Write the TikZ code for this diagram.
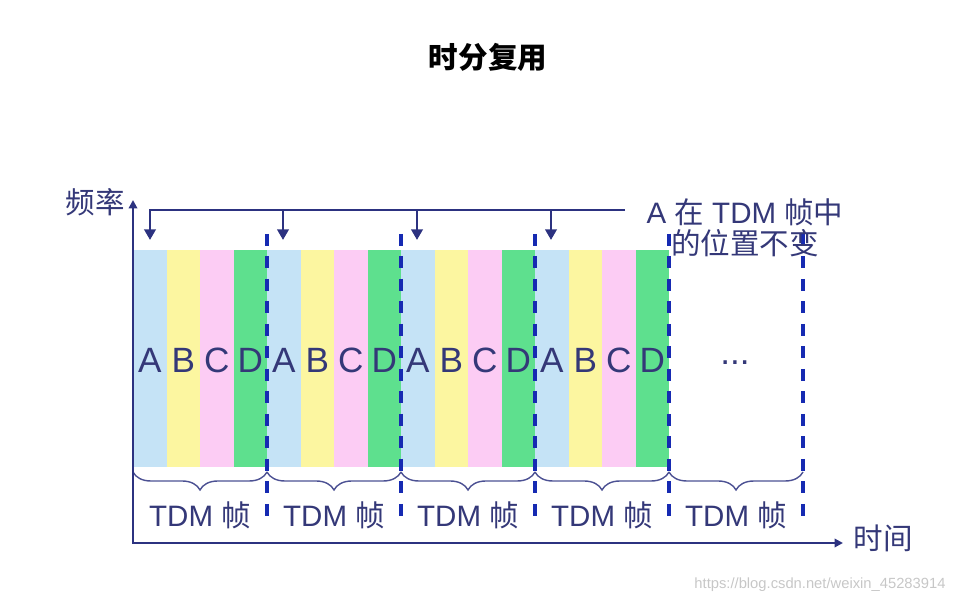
\documentclass[tikz,border=0pt]{standalone}
\usepackage{xcolor}
\usepackage{fontspec}
\setmainfont{Liberation Sans}
\newfontfamily\cjk{Noto Sans CJK SC}
\usepackage{tikz}
\usetikzlibrary{arrows.meta}
\usetikzlibrary{decorations.pathreplacing}

\definecolor{navy}{RGB}{44,50,128}
\definecolor{inkblue}{RGB}{52,56,120}
\definecolor{dashblue}{RGB}{22,42,178}
\definecolor{slotA}{RGB}{197,227,246}
\definecolor{slotB}{RGB}{252,246,160}
\definecolor{slotC}{RGB}{252,204,244}
\definecolor{slotD}{RGB}{94,224,142}

\tikzset{
  axis/.style={draw=navy, line width=2pt},
  bracket/.style={draw=navy, line width=2.1pt, -{Triangle[length=7.5pt,width=8pt]}},
  slotletter/.style={text=inkblue, font=\fontsize{25}{25}\selectfont},
  framelabel/.style={text=inkblue, font=\fontsize{21}{22}\selectfont},
  framesep/.style={draw=dashblue, line width=2.3pt, dash pattern=on 8.5pt off 7.5pt},
  framebrace/.style={draw=navy!85, line width=1pt, decorate,
    decoration={brace, mirror, amplitude=0.45cm}},
}

\begin{document}
\begin{tikzpicture}
\useasboundingbox (0,0) rectangle (24.125,15.1);

% title
\node (title) at (12.2,13.675) {\cjk\bfseries\fontsize{21}{21}\selectfont 时分复用};

% time slots of the four frames
\foreach \f in {0,1,2,3} {
  \foreach \s/\c/\l in {0/slotA/A,1/slotB/B,2/slotC/C,3/slotD/D} {
    \fill[\c] ({3.325+3.35*\f+0.8375*\s},3.425) rectangle +(0.845,5.425);
    \node[slotletter] (slot-\f-\l) at ({3.325+3.35*\f+0.8375*\s+0.41875},6.1) {\l};
  }
}
\node[slotletter] (dots) at (18.375,6.03) {...};

% frame borders
\foreach \x in {6.675,10.025,13.375,16.725,20.075}
  \draw[framesep] (\x,9.25) -- (\x,2.2);

% frames
\foreach \a/\b in {3.325/6.675,6.675/10.025,10.025/13.375,13.375/16.725,16.725/20.075} {
  \draw[framebrace] (\a,3.3) -- (\b,3.3);
  \node[framelabel] (frame-\a) at ({(\a+\b)/2},2.225) {TDM {\cjk 帧}};
}

% axes
\coordinate (origin) at (3.325,1.525);
\coordinate (ytip) at (3.325,10.1);
\coordinate (xtip) at (21.075,1.525);
\draw[axis, {Triangle[length=6pt,width=6pt]}-{Triangle[length=6pt,width=6pt]}] (ytip) -- (origin) -- (xtip);
\node[framelabel] (freq) at (2.375,10.05) {\cjk 频率};
\node[framelabel] (time) at (22.075,1.65) {\cjk 时间};

% position of A
\coordinate (bar-start) at (3.75,9.85);
\coordinate (bar-end) at (15.625,9.85);
\draw[bracket] (bar-end) -- (bar-start) -- (3.75,9.1);
\foreach \x in {7.075,10.425,13.775}
  \draw[bracket] (\x,9.85) -- (\x,9.1);
\node[framelabel, align=center] (note) at (18.625,9.4)
  {A {\cjk 在} TDM {\cjk 帧中}\\{\cjk 的位置不变}};

\node[text=black!22, font=\fontsize{10.5}{12}\selectfont] (mark) at (20.5,0.475)
  {https://blog.csdn.net/weixin\_45283914};
\end{tikzpicture}
\end{document}
